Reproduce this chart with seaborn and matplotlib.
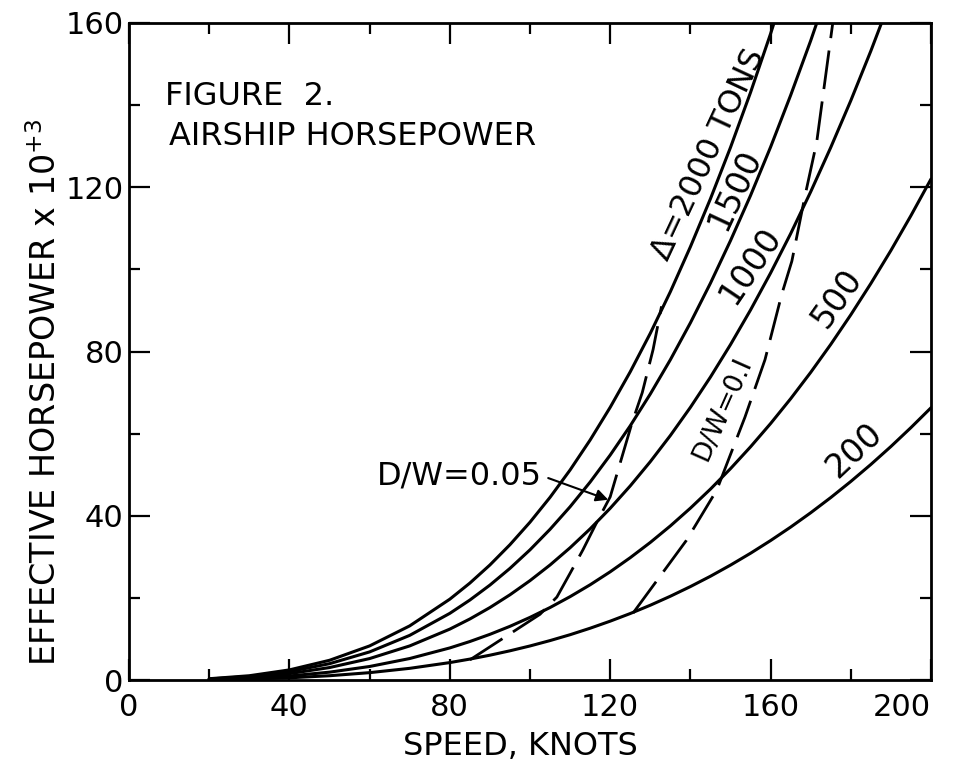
import matplotlib
matplotlib.use("Agg")
import matplotlib.pyplot as plt
import seaborn as sns
import pandas as pd
import numpy as np

# ---- data ----
speed = [20, 30, 40, 50, 60, 70, 80, 85, 90, 95, 100, 105, 110, 115, 120, 125, 130, 135,
         140, 145, 150, 155, 160, 165, 170, 175, 180, 185, 190, 195, 200]
hp_200 = [0.07, 0.22, 0.53, 1.04, 1.79, 2.84, 4.24, 5.09, 6.04, 7.11, 8.29, 9.60, 11.03, 12.61,
          14.33, 16.19, 18.21, 20.40, 22.75, 25.27, 27.98, 30.87, 33.96, 37.24, 40.73, 44.43,
          48.35, 52.49, 56.86, 61.47, 66.3]
hp_500 = [0.12, 0.41, 0.98, 1.91, 3.29, 5.23, 7.81, 9.37, 11.12, 13.07, 15.25, 17.65, 20.30, 23.19,
          26.35, 29.79, 33.50, 37.52, 41.85, 46.49, 51.47, 56.79, 62.46, 68.50, 74.92, 81.73,
          88.94, 96.56, 104.6, 113.1, 122.0]
hp_1000 = [0.19, 0.65, 1.55, 3.03, 5.22, 8.30, 12.39, 14.86, 17.64, 20.75, 24.20, 28.01, 32.21,
           36.81, 41.82, 47.27, 53.17, 59.54, 66.40, 73.78, 81.68, 90.12, 99.12, 108.7, 118.9,
           129.7, 141.1, 153.2, 166.0]
hp_1500 = [0.25, 0.85, 2.04, 3.97, 6.84, 10.87, 16.23, 19.47, 23.11, 27.18, 31.70, 36.70, 42.19,
           48.21, 54.78, 61.91, 69.65, 77.99, 86.98, 96.64, 107.0, 118.0, 129.8, 142.4, 155.7, 169.9]
hp_2000 = [0.31, 1.04, 2.46, 4.80, 8.30, 13.18, 19.68, 23.60, 28.01, 32.95, 38.43, 44.49, 51.15,
           58.45, 66.41, 75.06, 84.43, 94.55, 105.5, 117.2, 129.7, 143.1, 157.4, 172.6]

dw005_speed = [85, 102.5, 106.7, 110, 113.2, 116.7, 120, 125.4, 128, 130.7, 132.8]
dw005_hp = [4.9, 16.0, 20.2, 26.0, 31.7, 38.5, 44.6, 62.5, 70.0, 80.5, 91.0]

dw01_speed = [125.7, 139, 146.6, 149, 153.6, 158.6, 162.8, 165.3, 168.6, 171.5, 175.5]
dw01_hp = [16.3, 34.0, 46.3, 52.4, 64.0, 78.0, 94.0, 102.0, 118.0, 131.0, 160.0]

x_ticks = [0, 40, 80, 120, 160, 200]
y_ticks = [0, 40, 80, 120, 160]

sns.set_style("ticks")
plt.rcParams['font.family'] = ['DejaVu Sans']
plt.rcParams['text.color'] = 'black'
plt.rcParams['axes.labelcolor'] = 'black'
plt.rcParams['xtick.color'] = 'black'
plt.rcParams['ytick.color'] = 'black'

fig = plt.figure(figsize=(9.68, 7.65), dpi=100)
ax = fig.add_axes([129/968, 1-680/765, (931-129)/968, (680-23)/765])

lw = 2.2
for vals in [hp_200, hp_500, hp_1000, hp_1500, hp_2000]:
    df = pd.DataFrame({"speed": speed[:len(vals)], "hp": vals})
    sns.lineplot(data=df, x="speed", y="hp", ax=ax, color="black", lw=lw, sort=False)

for sx, sy in [(dw005_speed, dw005_hp), (dw01_speed, dw01_hp)]:
    df = pd.DataFrame({"speed": sx, "hp": sy})
    sns.lineplot(data=df, x="speed", y="hp", ax=ax, color="black", lw=2.0,
                 sort=False, dashes=False, linestyle=(0, (14, 4.5)))

ax.set_xlim(0, 200)
ax.set_ylim(0, 160)
ax.set_xticks(x_ticks)
ax.set_yticks(y_ticks)
ax.set_xticks(np.arange(20, 200, 40), minor=True)
ax.set_yticks(np.arange(20, 160, 40), minor=True)
ax.tick_params(which="both", direction="in", top=True, right=True, color="black", width=1.6,
               labelcolor="black")
ax.tick_params(which="major", length=15, labelsize=22, pad=4)
ax.tick_params(axis="x", which="major", pad=9)
ax.tick_params(which="minor", length=8)
xl = ax.get_xticklabels()
xl[-1].set_horizontalalignment("right")
for s in ax.spines.values():
    s.set_linewidth(2.0)
    s.set_color("black")

ax.set_xlabel("SPEED, KNOTS", fontsize=23)
ax.set_ylabel(r"EFFECTIVE HORSEPOWER x 10$^{+3}$", fontsize=24)
ax.xaxis.set_label_coords((520-129)/802, (680-731)/657)
ax.yaxis.set_label_coords((63-129)/802, (680-392)/657)

ax.text(9, 142, "FIGURE  2.", fontsize=23, va="center", ha="left")
ax.text(10, 132.4, "AIRSHIP HORSEPOWER", fontsize=23, va="center", ha="left")

def rot(txt, x, y, ang, size=24):
    ax.text(x, y, txt, rotation=ang, rotation_mode="anchor", ha="center", va="center", fontsize=size)

rot("Δ=2000 TONS", 144.6, 128.0, 65, size=23)
rot("1500", 151, 119.5, 65)
rot("1000", 155, 101, 56)
rot("500", 176.6, 93, 55)
rot("200", 181, 56, 43)
rot("D/W=0.I", 148, 66, 66, size=19)

ax.annotate("D/W=0.05", xy=(119.5, 43.9), xytext=(82.5, 49.7), fontsize=23,
            ha="center", va="center",
            arrowprops=dict(arrowstyle="-|>", color="black", lw=1.5, mutation_scale=18,
                            shrinkA=2, shrinkB=0, relpos=(1.0, 0.5)))

fig.savefig("out.png", dpi=100)
